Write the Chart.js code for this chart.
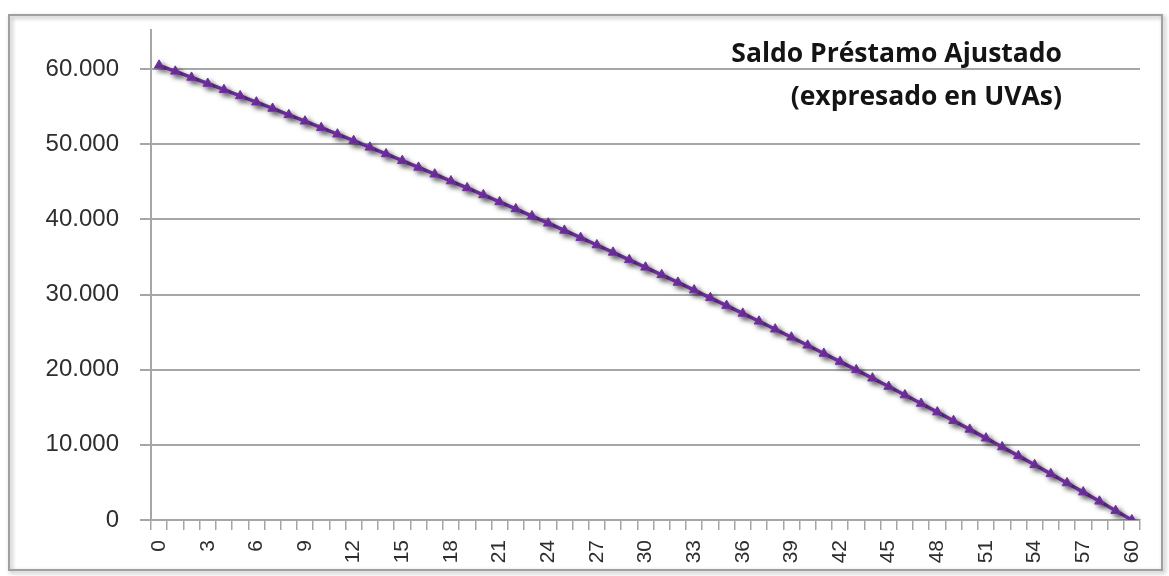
<!DOCTYPE html>
<html><head><meta charset="utf-8">
<script src="https://cdn.jsdelivr.net/npm/chart.js@4.4.1/dist/chart.umd.min.js"></script>
<style>html,body{margin:0;padding:0;background:#fff;overflow:hidden}#wrap{position:relative;width:1169px;height:576px}</style>
</head><body><div id="wrap"><canvas id="c" width="1169" height="576"></canvas></div>
<script>
const months = [0,1,2,3,4,5,6,7,8,9,10,11,12,13,14,15,16,17,18,19,20,21,22,23,24,25,26,27,28,29,30,31,32,33,34,35,36,37,38,39,40,41,42,43,44,45,46,47,48,49,50,51,52,53,54,55,56,57,58,59,60];
const saldoUVA = [60500,59700,58890,58080,57255,56430,55600,54760,53910,53060,52200,51340,50470,49590,48710,47815,46920,46015,45100,44190,43260,42330,41390,40445,39490,38535,37570,36595,35610,34620,33625,32620,31610,30595,29565,28530,27490,26440,25385,24315,23245,22160,21075,19975,18870,17755,16630,15500,14360,13215,12055,10890,9715,8535,7340,6140,4930,3710,2485,1245,0];
const xTickLabels = ['0','3','6','9','12','15','18','21','24','27','30','33','36','39','42','45','48','51','54','57','60'];
const yTickValues = [0,10000,20000,30000,40000,50000,60000];
const titleLines = ['Saldo Préstamo Ajustado','(expresado en UVAs)'];

const fmt = v => String(v).replace(/\B(?=(\d{3})+(?!\d))/g, '.');

const framePlugin = {
  id: 'frame',
  beforeDraw(chart) {
    const ctx = chart.ctx;
    ctx.save();
    ctx.fillStyle = '#ffffff';
    ctx.fillRect(0, 0, chart.width, chart.height);
    ctx.shadowColor = 'rgba(0,0,0,0.35)';
    ctx.shadowBlur = 4;
    ctx.shadowOffsetX = 2;
    ctx.shadowOffsetY = 2;
    ctx.strokeStyle = '#a0a0a0';
    ctx.lineWidth = 2;
    ctx.strokeRect(9, 15, 1153, 555);
    ctx.restore();
  }
};
const shadowPlugin = {
  id: 'lineShadow',
  beforeDatasetsDraw(chart) {
    const ctx = chart.ctx;
    ctx.save();
    ctx.shadowColor = 'rgba(0,0,0,0.5)';
    ctx.shadowBlur = 5;
    ctx.shadowOffsetX = 3;
    ctx.shadowOffsetY = 3;
  },
  afterDatasetsDraw(chart) { chart.ctx.restore(); }
};
const titlePlugin = {
  id: 'inTitle',
  afterDraw(chart) {
    const ctx = chart.ctx;
    ctx.save();
    ctx.fillStyle = '#141414';
    ctx.font = 'bold 26.5px "Open Sans"';
    ctx.textAlign = 'right';
    ctx.textBaseline = 'alphabetic';
    ctx.fillText(titleLines[0], 1062, 62);
    ctx.fillText(titleLines[1], 1062, 105);
    ctx.restore();
  }
};

new Chart(document.getElementById('c'), {
  type: 'line',
  data: {
    labels: months.map(String),
    datasets: [{
      data: saldoUVA,
      borderColor: '#7030A0',
      backgroundColor: '#7030A0',
      borderWidth: 3.5,
      pointStyle: 'triangle',
      pointRadius: 5.5,
      pointBorderWidth: 1,
      pointBackgroundColor: '#7030A0',
      pointBorderColor: '#7030A0',
      tension: 0,
      fill: false
    }]
  },
  options: {
    responsive: false,
    animation: false,
    devicePixelRatio: 1,
    layout: { padding: { top: 30, right: 29, left: 0, bottom: 0 } },
    plugins: { legend: { display: false }, tooltip: { enabled: false } },
    scales: {
      x: {
        type: 'category',
        offset: true,
        grid: { offset: true, drawOnChartArea: false, drawTicks: true, tickLength: 10, color: '#a6a6a6', lineWidth: 1.5 },
        border: { display: true, color: '#a6a6a6', width: 2 },
        ticks: {
          autoSkip: false, maxRotation: 90, minRotation: 90, padding: 10,
          color: '#2e2e2e', font: { family: 'Liberation Sans', size: 21 },
          callback(value) { const l = this.getLabelForValue(value); return xTickLabels.includes(l) ? l : ''; }
        },
        afterFit(s) { s.height = 56; s.paddingLeft = 0; s.paddingRight = 0; }
      },
      y: {
        min: 0, max: 65200,
        grid: { drawTicks: true, tickLength: 11, color: '#a6a6a6', lineWidth: 2 },
        border: { display: true, color: '#a6a6a6', width: 2 },
        ticks: {
          stepSize: 10000, padding: 21, color: '#2e2e2e',
          font: { family: 'Liberation Sans', size: 24 },
          callback: v => fmt(v)
        },
        afterBuildTicks(s) { s.ticks = yTickValues.map(v => ({ value: v })); },
        afterFit(s) { s.width = 151; s.paddingTop = 0; s.paddingBottom = 0; }
      }
    }
  },
  plugins: [framePlugin, shadowPlugin, titlePlugin]
});
</script></body></html>
